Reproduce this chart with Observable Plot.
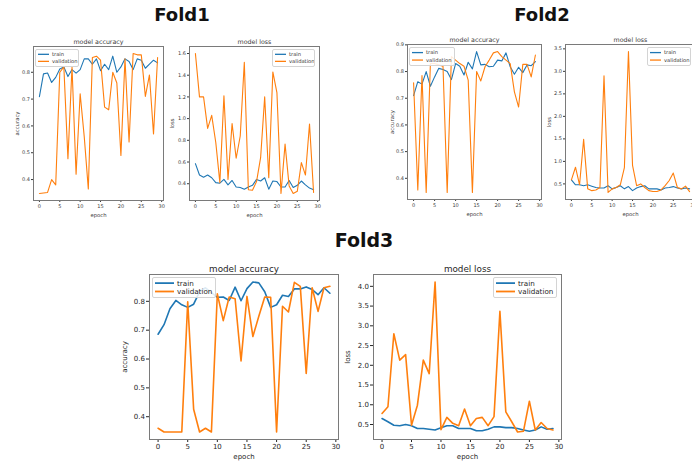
<!DOCTYPE html>
<html><head><meta charset="utf-8">
<script src="https://cdn.jsdelivr.net/npm/d3@7"></script>
<script src="https://cdn.jsdelivr.net/npm/@observablehq/plot@0.6"></script>
<style>
body{margin:0;background:#fff;overflow:hidden}
#c{position:relative;width:692px;height:461px;overflow:hidden;font-family:"DejaVu Sans",sans-serif;background:#fff}
.fold{position:absolute;font-weight:bold;transform:translate(-50%,-50%);white-space:nowrap;color:#111}
.p{position:absolute}
.p svg{max-width:none !important}
.lg{position:absolute;box-sizing:border-box;border:1px solid #d4d4d4;border-radius:2px;background:rgba(255,255,255,0.85)}
</style></head><body><div id="c"></div>
<script>
const epochs = [0,1,2,3,4,5,6,7,8,9,10,11,12,13,14,15,16,17,18,19,20,21,22,23,24,25,26,27,28,29];
const epochTicks = [0,5,10,15,20,25,30];
const seriesNames = ["train","validation"];

const fold1AccTrain = [0.709,0.794,0.797,0.762,0.781,0.812,0.82,0.784,0.81,0.797,0.81,0.85,0.85,0.83,0.85,0.806,0.83,0.81,0.86,0.80,0.82,0.85,0.84,0.81,0.85,0.845,0.815,0.83,0.845,0.835];
const fold1AccVal   = [0.348,0.35,0.352,0.40,0.38,0.80,0.82,0.478,0.82,0.42,0.72,0.56,0.365,0.855,0.86,0.845,0.67,0.66,0.80,0.76,0.49,0.85,0.54,0.87,0.865,0.865,0.71,0.79,0.57,0.855];
const fold1LossTrain = [0.585,0.48,0.46,0.48,0.455,0.41,0.405,0.44,0.39,0.43,0.37,0.365,0.35,0.37,0.385,0.44,0.425,0.455,0.35,0.425,0.42,0.37,0.37,0.43,0.365,0.385,0.425,0.39,0.36,0.345];
const fold1LossVal   = [1.6,1.20,1.20,0.91,1.03,0.78,0.41,1.21,0.44,0.955,0.635,0.84,1.52,0.345,0.34,0.42,0.64,1.20,0.455,1.43,1.24,0.31,0.765,0.38,0.31,0.33,0.595,0.48,0.95,0.32];

const fold2AccTrain = [0.71,0.762,0.753,0.80,0.745,0.78,0.812,0.808,0.80,0.77,0.83,0.82,0.787,0.835,0.81,0.875,0.825,0.827,0.818,0.82,0.843,0.84,0.87,0.818,0.79,0.816,0.796,0.825,0.822,0.837];
const fold2AccVal   = [0.758,0.356,0.785,0.347,0.83,0.83,0.825,0.82,0.347,0.856,0.843,0.83,0.82,0.768,0.347,0.80,0.765,0.818,0.843,0.87,0.875,0.856,0.843,0.83,0.724,0.667,0.827,0.827,0.78,0.862];
const fold2LossTrain = [0.59,0.48,0.48,0.46,0.48,0.45,0.42,0.41,0.41,0.46,0.39,0.42,0.46,0.39,0.44,0.35,0.41,0.44,0.46,0.39,0.39,0.39,0.365,0.41,0.42,0.44,0.41,0.39,0.41,0.39];
const fold2LossVal   = [0.59,0.87,0.48,1.49,0.39,0.35,0.365,0.42,2.90,0.31,0.39,0.42,0.48,0.86,3.44,0.91,0.46,0.50,0.42,0.35,0.33,0.33,0.365,0.46,0.575,0.74,0.42,0.39,0.45,0.33];

const fold3AccTrain = [0.686,0.719,0.774,0.803,0.788,0.779,0.79,0.833,0.847,0.83,0.814,0.815,0.803,0.849,0.802,0.844,0.867,0.864,0.833,0.779,0.788,0.821,0.817,0.843,0.843,0.85,0.841,0.823,0.847,0.828];
const fold3AccVal   = [0.36,0.347,0.347,0.347,0.347,0.798,0.426,0.347,0.36,0.347,0.826,0.733,0.815,0.809,0.593,0.817,0.678,0.748,0.815,0.814,0.347,0.783,0.763,0.866,0.852,0.55,0.847,0.765,0.847,0.852];
const fold3LossTrain = [0.65,0.57,0.48,0.47,0.50,0.47,0.40,0.40,0.38,0.36,0.42,0.47,0.47,0.40,0.40,0.40,0.34,0.34,0.38,0.44,0.44,0.42,0.42,0.40,0.36,0.33,0.36,0.44,0.38,0.40];
const fold3LossVal   = [0.78,0.95,2.80,2.13,2.27,0.48,0.99,2.13,1.79,4.11,0.37,0.68,0.53,0.47,0.89,0.47,0.65,0.68,0.47,0.70,3.37,0.82,0.57,0.31,0.33,1.09,0.36,0.55,0.40,0.36];

const accTicks1 = [0.4,0.5,0.6,0.7,0.8,0.9];
const lossTicks1 = [0.4,0.6,0.8,1.0,1.2,1.4,1.6];
const accTicks2 = [0.4,0.5,0.6,0.7,0.8,0.9];
const lossTicks2 = [0.5,1.0,1.5,2.0,2.5,3.0,3.5];
const accTicks3 = [0.4,0.5,0.6,0.7,0.8,0.9];
const lossTicks3 = [0.5,1.0,1.5,2.0,2.5,3.0,3.5,4.0];

const foldTitles = [
  {text:"Fold1", x:182, y:14, size:18},
  {text:"Fold2", x:542, y:14, size:18},
  {text:"Fold3", x:364, y:240, size:19}
];

const small = {tick:5, label:5.3, title:6.3, legend:5.2, lw:1.1, ts:2, legLine:11, text:"#3a3a3a"};
const big = {tick:7, label:7, title:8.8, legend:7.2, lw:1.6, ts:3, legLine:19, text:"#262626"};

const panels = [
  {train:fold1AccTrain, val:fold1AccVal, ticks:accTicks1, title:"model accuracy", ylabel:"accuracy", fr:[33,163,46,200], yl:17, xl:214, leg:[35,49,44,18], st:small, fmt:".1f"},
  {train:fold1LossTrain, val:fold1LossVal, ticks:lossTicks1, title:"model loss", ylabel:"loss", fr:[189,319,46,200], yl:172, xl:214, leg:[272,49,43,18], st:small, fmt:".1f"},
  {train:fold2AccTrain, val:fold2AccVal, ticks:accTicks2, title:"model accuracy", ylabel:"accuracy", fr:[407,541,44,199], yl:392, xl:213, leg:[409,47,46,19], st:small, fmt:".1f"},
  {train:fold2LossTrain, val:fold2LossVal, ticks:lossTicks2, title:"model loss", ylabel:"loss", fr:[565,695,44,199], yl:549, xl:213, leg:[647,47,44,19], st:small, fmt:".1f"},
  {train:fold3AccTrain, val:fold3AccVal, ticks:accTicks3, title:"model accuracy", ylabel:"accuracy", fr:[149,338,274,439], yl:125, xl:455, leg:[152,277,64,21], st:big, fmt:".1f"},
  {train:fold3LossTrain, val:fold3LossVal, ticks:lossTicks3, title:"model loss", ylabel:"loss", fr:[373,561,274,439], yl:348, xl:455, leg:[493,277,64,21], st:big, fmt:".1f"}
];

const colors = ["#1f77b4","#ff7f0e"];
const root = d3.select("#c");

function padDomain(vals) {
  const lo = d3.min(vals), hi = d3.max(vals), m = (hi - lo) * 0.05;
  return [lo - m, hi + m];
}

for (const p of panels) {
  const st = p.st;
  const [fl, frR, ft, fb] = p.fr;
  const ml = 40, mr = 10, mt = 20, mb = 30;
  const W = frR - fl + ml + mr, H = fb - ft + mt + mb;
  const rows = [
    ...p.train.map((v, i) => ({epoch: epochs[i], value: v, series: seriesNames[0]})),
    ...p.val.map((v, i) => ({epoch: epochs[i], value: v, series: seriesNames[1]}))
  ];
  const yDomain = padDomain(p.train.concat(p.val));
  const xDomain = padDomain(epochs);
  const yt = p.ticks.filter(t => t >= yDomain[0] && t <= yDomain[1]);
  const chart = Plot.plot({
    width: W, height: H,
    marginLeft: ml, marginRight: mr, marginTop: mt, marginBottom: mb,
    style: {fontFamily: "DejaVu Sans, sans-serif", fontSize: st.tick + "px", color: st.text, background: "transparent", overflow: "visible", maxWidth: "none"},
    x: {domain: xDomain, ticks: epochTicks, tickSize: st.ts, tickPadding: 1.5, tickFormat: d3.format("d"),
        label: "epoch", labelAnchor: "center", labelArrow: "none", labelOffset: p.xl - fb + st.label * 0.5},
    y: {domain: yDomain, ticks: yt, tickSize: st.ts, tickPadding: 1.5, tickFormat: d3.format(p.fmt),
        label: p.ylabel, labelAnchor: "center", labelArrow: "none", labelOffset: fl - p.yl + st.label * 0.5},
    color: {domain: seriesNames, range: colors},
    marks: [
      Plot.line(rows, {x: "epoch", y: "value", stroke: "series", z: "series", strokeWidth: st.lw, curve: "linear"}),
      Plot.frame({stroke: "#7a7a7a", strokeWidth: 1}),
      Plot.text([p.title], {text: d => d, frameAnchor: "top", lineAnchor: "bottom", dy: -2.5, fontSize: st.title, fill: st.text})
    ]
  });
  d3.select(chart).selectAll("[aria-label='x-axis label'] text, [aria-label='y-axis label'] text").style("font-size", st.label + "px");
  chart.style.maxWidth = "none";
  chart.style.width = W + "px";
  chart.style.height = H + "px";
  const wrap = root.append("div").attr("class", "p")
    .style("left", (fl - ml) + "px").style("top", (ft - mt) + "px")
    .style("width", W + "px").style("height", H + "px");
  wrap.node().appendChild(chart);

  const [lx, ly, lw, lh] = p.leg;
  const lg = root.append("div").attr("class", "lg")
    .style("left", lx + "px").style("top", ly + "px").style("width", lw + "px").style("height", lh + "px");
  const svg = lg.append("svg").attr("width", lw - 2).attr("height", lh - 2).style("display", "block");
  seriesNames.forEach((s, i) => {
    const cy = (lh - 2) * (i === 0 ? 0.27 : 0.71);
    svg.append("line").attr("x1", 2).attr("x2", 2 + st.legLine).attr("y1", cy).attr("y2", cy)
      .attr("stroke", colors[i]).attr("stroke-width", st.lw + 0.2);
    svg.append("text").attr("x", 5 + st.legLine).attr("y", cy).attr("dy", "0.35em")
      .attr("font-size", st.legend).attr("fill", st.text).attr("font-family", "DejaVu Sans, sans-serif").text(s);
  });
}

for (const f of foldTitles) {
  root.append("div").attr("class", "fold").style("left", f.x + "px").style("top", f.y + "px")
    .style("font-size", f.size + "px").text(f.text);
}
</script>
</body></html>
